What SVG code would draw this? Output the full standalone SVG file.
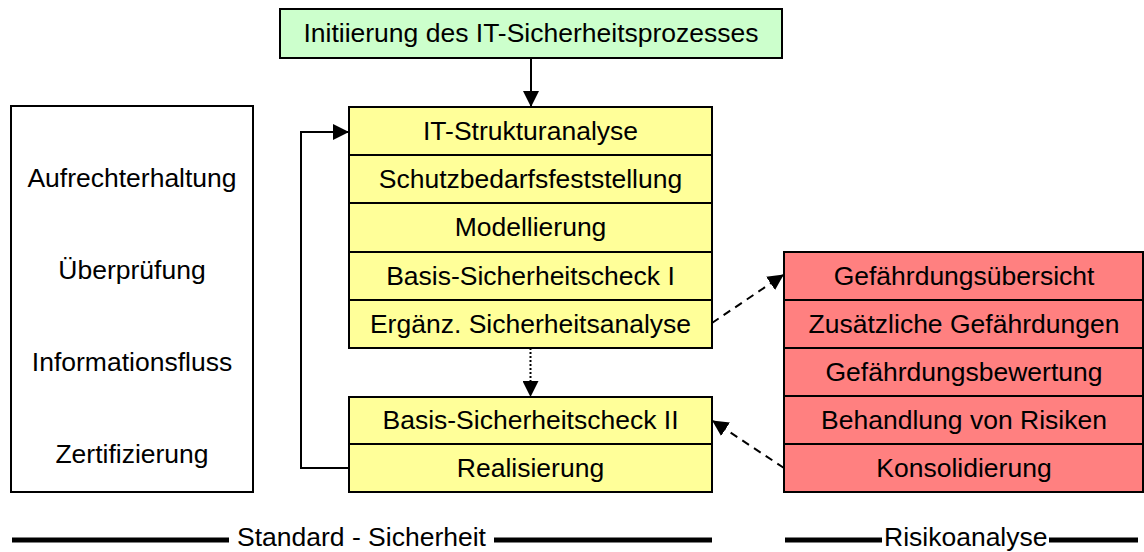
<svg xmlns="http://www.w3.org/2000/svg" width="1144" height="552" viewBox="0 0 1144 552">
  <style>
    text { font-family: "Liberation Sans", Arial, sans-serif; font-size: 26.5px; fill: #000; text-anchor: middle; }
    .box { stroke: #000; stroke-width: 2; }
    .start { fill: #ccffcc; }
    .std { fill: #ffff99; }
    .risk { fill: #ff8080; }
    .plain { fill: #fff; }
    .div { stroke: #000; stroke-width: 2; fill: none; }
    .link { stroke: #000; stroke-width: 2; fill: none; }
    .dash { stroke-dasharray: 8 6; }
    .dot { stroke-dasharray: 2 2; }
    .rule { stroke: #000; stroke-width: 5; }
    .lbl { text-anchor: start; }
  </style>
  <defs>
    <marker id="head" viewBox="0 0 16 16" refX="15" refY="8" markerWidth="16" markerHeight="16" markerUnits="userSpaceOnUse" orient="auto">
      <path d="M0,0 L16,8 L0,16 Z" fill="#000"/>
    </marker>
  </defs>

  <!-- process start -->
  <g id="node-init">
    <rect class="box start" x="280" y="9" width="502" height="49"/>
    <text x="531" y="42">Initiierung des IT-Sicherheitsprozesses</text>
  </g>

  <!-- ongoing activities -->
  <g id="node-activities">
    <rect class="box plain" x="11" y="106" width="242" height="386"/>
    <text x="132" y="187">Aufrechterhaltung</text>
    <text x="132" y="279">Überprüfung</text>
    <text x="132" y="371">Informationsfluss</text>
    <text x="132" y="463">Zertifizierung</text>
  </g>

  <!-- standard security steps, phase 1 -->
  <g id="node-standard-1">
    <rect class="box std" x="349" y="107" width="363" height="241"/>
    <path class="div" d="M349,155H712M349,203H712M349,252H712M349,300H712"/>
    <text x="530.5" y="140">IT-Strukturanalyse</text>
    <text x="530.5" y="188">Schutzbedarfsfeststellung</text>
    <text x="530.5" y="236">Modellierung</text>
    <text x="530.5" y="285">Basis-Sicherheitscheck I</text>
    <text x="530.5" y="333">Ergänz. Sicherheitsanalyse</text>
  </g>

  <!-- standard security steps, phase 2 -->
  <g id="node-standard-2">
    <rect class="box std" x="349" y="397" width="363" height="95"/>
    <path class="div" d="M349,444H712"/>
    <text x="530.5" y="429">Basis-Sicherheitscheck II</text>
    <text x="530.5" y="477">Realisierung</text>
  </g>

  <!-- risk analysis steps -->
  <g id="node-risk">
    <rect class="box risk" x="784" y="252" width="359" height="240"/>
    <path class="div" d="M784,300H1143M784,348H1143M784,396H1143M784,444H1143"/>
    <text x="964" y="285">Gefährdungsübersicht</text>
    <text x="964" y="333">Zusätzliche Gefährdungen</text>
    <text x="964" y="381">Gefährdungsbewertung</text>
    <text x="964" y="429">Behandlung von Risiken</text>
    <text x="964" y="477">Konsolidierung</text>
  </g>

  <!-- connectors -->
  <g id="connectors">
    <path class="link" d="M531,58V106" marker-end="url(#head)"/>
    <path class="link" d="M349,468H301V132H348" marker-end="url(#head)"/>
    <path class="link dot" d="M530.5,348V396" marker-end="url(#head)"/>
    <path class="link dash" d="M712,323L783,275" marker-end="url(#head)"/>
    <path class="link dash" d="M784,468L713,421" marker-end="url(#head)"/>
  </g>

  <!-- section captions -->
  <g id="captions">
    <line class="rule" x1="12" y1="540" x2="229" y2="540"/>
    <text class="lbl" x="237" y="546">Standard - Sicherheit</text>
    <line class="rule" x1="494" y1="540" x2="712" y2="540"/>
    <line class="rule" x1="785" y1="540" x2="882" y2="540"/>
    <text class="lbl" x="884" y="546">Risikoanalyse</text>
    <line class="rule" x1="1049" y1="540" x2="1138" y2="540"/>
  </g>
</svg>
